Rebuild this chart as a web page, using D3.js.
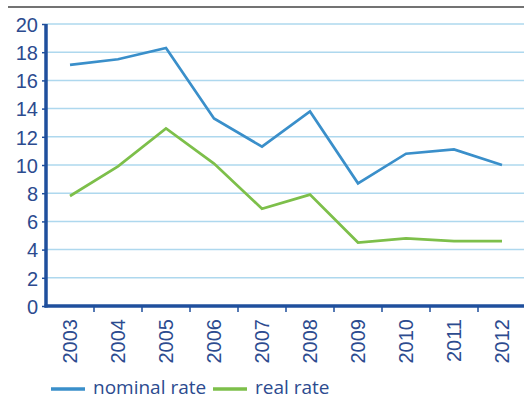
<!DOCTYPE html>
<html><head><meta charset="utf-8">
<script src="https://cdn.jsdelivr.net/npm/d3@7"></script>
<style>body{margin:0;background:#fff;}svg{display:block;font-family:"Open Sans",sans-serif;}</style>
</head><body>
<svg id="c" width="524" height="400"></svg>
<script>
const years = ["2003","2004","2005","2006","2007","2008","2009","2010","2011","2012"];
const nominal = [17.1,17.5,18.3,13.3,11.3,13.8,8.7,10.8,11.1,10.0];
const real = [7.8,9.9,12.6,10.1,6.9,7.9,4.5,4.8,4.6,4.6];
const yTicks = [0,2,4,6,8,10,12,14,16,18,20];
const seriesNames = ["nominal rate","real rate"];
const colors = ["#3a8fca","#7dbf4a"];
const textColor = "#2c4b8f";
const axisColor = "#1f4f9d";

const svg = d3.select("#c");
const L = 46, R = 526, T = 24, B = 306;
const x = d3.scaleBand().domain(years).range([L, R]);
const y = d3.scaleLinear().domain([0,20]).range([B, T]);

// top rule
svg.append("line").attr("x1",8).attr("x2",524).attr("y1",7).attr("y2",7)
  .attr("stroke","#444").attr("stroke-width",1.5);

// gridlines
svg.append("g").selectAll("line").data(yTicks.filter(d=>d>0)).join("line")
  .attr("x1",L).attr("x2",524).attr("y1",d=>y(d)).attr("y2",d=>y(d))
  .attr("stroke","#aed8ee").attr("stroke-width",1.5);

// y axis
const ya = svg.append("g").attr("transform",`translate(${L},0)`)
  .call(d3.axisLeft(y).tickValues(yTicks).tickSize(4).tickPadding(4).tickFormat(d3.format("d")));
ya.select(".domain").remove();
ya.selectAll(".tick line").attr("stroke",axisColor).attr("stroke-width",1.5);
ya.selectAll("text").attr("fill",textColor).style("font-size","20px").attr("dy","0.36em");
svg.append("line").attr("x1",L).attr("x2",L).attr("y1",T).attr("y2",B+1.5)
  .attr("stroke",axisColor).attr("stroke-width",3.5);

// x axis
const xa = svg.append("g").attr("transform",`translate(0,${B})`)
  .call(d3.axisBottom(x).tickSize(0).tickPadding(0));
xa.select(".domain").remove();
xa.selectAll(".tick text").attr("fill",textColor).style("font-size","20px")
  .attr("transform","rotate(-90)").attr("text-anchor","end")
  .attr("x",-13).attr("y",0).attr("dy","0.36em");
const bounds = years.map(d=>x(d)).slice(1).concat([x(years[9])+x.bandwidth()]);
svg.append("g").selectAll("line").data(bounds.filter(b=>b<524)).join("line")
  .attr("x1",d=>d).attr("x2",d=>d).attr("y1",B).attr("y2",B+6)
  .attr("stroke",axisColor).attr("stroke-width",1.5);
svg.append("line").attr("x1",L-1.5).attr("x2",524).attr("y1",B).attr("y2",B)
  .attr("stroke",axisColor).attr("stroke-width",3.5);

// lines
const line = d3.line().x((d,i)=>x(years[i])+x.bandwidth()/2).y(d=>y(d));
[nominal, real].forEach((s,k)=>{
  svg.append("path").datum(s).attr("d",line).attr("fill","none")
    .attr("stroke",colors[k]).attr("stroke-width",2.7).attr("stroke-linejoin","miter");
});

// legend
const lg = svg.append("g");
const lx = [51, 213];
seriesNames.forEach((n,k)=>{
  lg.append("line").attr("x1",lx[k]).attr("x2",lx[k]+34).attr("y1",389).attr("y2",389)
    .attr("stroke",colors[k]).attr("stroke-width",3.5);
  lg.append("text").attr("x",lx[k]+42).attr("y",394).attr("fill",textColor)
    .style("font-size","19px").text(n);
});
</script>
</body></html>
